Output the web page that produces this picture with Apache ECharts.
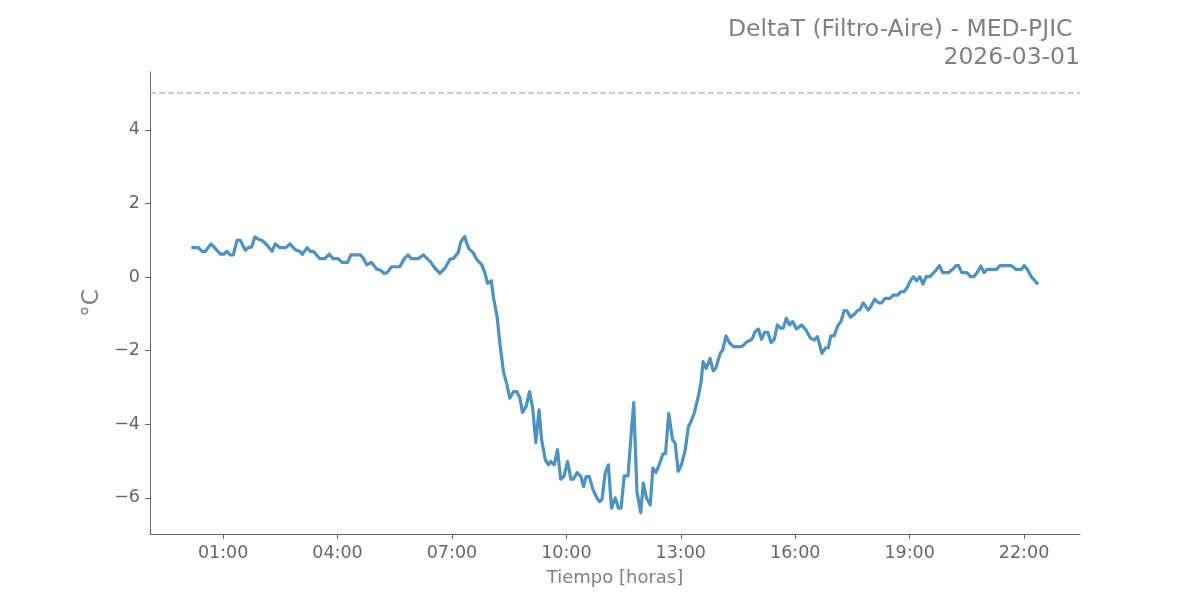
<!DOCTYPE html>
<html>
<head>
<meta charset="utf-8">
<script src="https://cdn.jsdelivr.net/npm/echarts@6/dist/echarts.min.js"></script>
<style>html,body{margin:0;padding:0;background:#fff}#c{width:1200px;height:600px}</style>
</head>
<body>
<div id="c"></div>
<script>
// minutes since 00:00
const timesMin = [10,21,27,32,41,49,56,61,66,71,76,82,87,95,100,105,110,116,121,129,137,142,149,159,165,173,180,185,192,197,202,212,220,227,233,241,247,256,261,276,281,286,293,296,302,307,313,318,325,338,345,351,356,367,375,386,393,401,409,417,422,430,434,440,443,447,453,459,467,472,476,482,485,491,496,501,506,511,517,522,527,531,537,542,547,552,557,561,567,572,575,581,586,591,596,602,607,611,617,623,627,631,636,642,648,652,656,661,666,671,677,682,686,691,697,702,706,711,717,721,726,732,736,741,746,752,756,761,767,771,776,781,787,792,796,801,808,812,815,820,826,831,835,842,846,851,857,863,876,884,892,897,902,907,912,917,922,927,932,937,941,946,951,956,962,970,977,984,990,995,1002,1008,1012,1016,1021,1027,1032,1037,1041,1047,1054,1058,1062,1067,1075,1079,1085,1091,1096,1101,1109,1114,1121,1126,1131,1136,1141,1146,1151,1156,1161,1166,1172,1180,1187,1192,1201,1208,1213,1217,1222,1230,1236,1241,1246,1252,1257,1262,1277,1282,1300,1307,1316,1320,1325,1332,1337,1342];
const deltaT = [0.8,0.8,0.7,0.7,0.9,0.75,0.62,0.62,0.7,0.6,0.6,1.0,1.0,0.73,0.8,0.82,1.09,1.02,1.0,0.87,0.7,0.9,0.8,0.8,0.9,0.75,0.7,0.62,0.8,0.7,0.7,0.5,0.5,0.62,0.5,0.5,0.4,0.4,0.6,0.6,0.5,0.33,0.4,0.37,0.21,0.19,0.1,0.12,0.28,0.28,0.5,0.6,0.5,0.5,0.6,0.42,0.25,0.1,0.24,0.49,0.5,0.67,0.96,1.1,0.93,0.76,0.67,0.48,0.33,0.1,-0.17,-0.1,-0.53,-1.08,-1.89,-2.57,-2.89,-3.29,-3.11,-3.11,-3.29,-3.68,-3.5,-3.11,-3.56,-4.5,-3.61,-4.42,-4.97,-5.1,-5.01,-5.1,-4.69,-5.49,-5.42,-5.01,-5.49,-5.49,-5.31,-5.42,-5.69,-5.42,-5.42,-5.78,-6.0,-6.1,-6.05,-5.33,-5.1,-6.28,-6.0,-6.28,-6.28,-5.4,-5.4,-4.24,-3.41,-5.83,-6.4,-5.6,-6.0,-6.19,-5.19,-5.31,-5.1,-4.8,-4.8,-3.7,-4.42,-4.51,-5.28,-5.1,-4.69,-4.06,-3.93,-3.7,-3.2,-2.84,-2.3,-2.48,-2.21,-2.55,-2.48,-2.07,-1.98,-1.6,-1.8,-1.89,-1.89,-1.76,-1.69,-1.48,-1.41,-1.69,-1.5,-1.5,-1.78,-1.69,-1.3,-1.39,-1.39,-1.12,-1.3,-1.21,-1.41,-1.3,-1.44,-1.66,-1.71,-1.62,-2.07,-1.92,-1.92,-1.6,-1.6,-1.32,-1.21,-0.91,-0.91,-1.09,-0.99,-0.91,-0.88,-0.7,-0.9,-0.8,-0.6,-0.7,-0.7,-0.58,-0.58,-0.49,-0.49,-0.4,-0.4,-0.29,-0.11,0.01,-0.1,0.01,-0.19,0.01,0.01,0.16,0.31,0.12,0.12,0.21,0.31,0.31,0.12,0.12,0.01,0.01,0.12,0.3,0.12,0.21,0.21,0.31,0.31,0.21,0.21,0.31,0.21,-0.01,-0.1,-0.2];
const xTickMin = [60,240,420,600,780,960,1140,1320];
const yTicks = [-6,-4,-2,0,2,4];
const threshold = 5;
const titleLines = ['DeltaT (Filtro-Aire) - MED-PJIC ', '2026-03-01'];

const pad = n => String(n).padStart(2,'0');
const fmtTime = v => pad(Math.floor(v/60)) + ':' + pad(Math.round(v%60));
const fmtNum = v => String(v).replace('-', '\u2212');

const chart = echarts.init(document.getElementById('c'), null, {renderer:'canvas'});
const font = 'DejaVu Sans';
chart.setOption({
  animation:false,
  backgroundColor:'#fff',
  textStyle:{fontFamily:font},
  graphic:[
    {type:'text', right:120, top:18, style:{text:titleLines[0], font:'23.5px "DejaVu Sans"', fill:'#808080', textAlign:'right'}},
    {type:'text', right:120, top:46, style:{text:titleLines[1], font:'23.5px "DejaVu Sans"', fill:'#808080', textAlign:'right'}}
  ],
  grid:{left:150, right:120, top:72, bottom:66, containLabel:false},
  xAxis:{
    type:'value', min:-55, max:1408,
    name:'Tiempo [horas]', nameLocation:'middle', nameGap:35,
    nameTextStyle:{fontFamily:font, fontSize:18, color:'#808080'},
    splitLine:{show:false},
    axisLine:{show:true, onZero:false, lineStyle:{color:'#666', width:1}},
    axisTick:{show:true, customValues:xTickMin, length:5, lineStyle:{color:'#666'}},
    axisLabel:{customValues:xTickMin, formatter:fmtTime, fontFamily:font, fontSize:17.5, color:'#666', margin:10}
  },
  yAxis:{
    type:'value', min:-6.98, max:5.57,
    name:'°C', nameLocation:'middle', nameGap:44, nameRotate:90,
    nameTextStyle:{fontFamily:font, fontSize:23, color:'#808080'},
    splitLine:{show:false},
    axisLine:{show:true, onZero:false, lineStyle:{color:'#666', width:1}},
    axisTick:{show:true, customValues:yTicks, length:5, lineStyle:{color:'#666'}},
    axisLabel:{customValues:yTicks, formatter:fmtNum, fontFamily:font, fontSize:17.5, color:'#666', margin:10}
  },
  series:[{
    type:'line',
    data: timesMin.map((t,i)=>[t, deltaT[i]]),
    showSymbol:false, symbol:'none',
    lineStyle:{color:'#4c92c3', width:3.2, join:'round'},
    markLine:{
      silent:true, symbol:['none','none'], label:{show:false},
      lineStyle:{color:'#bbbbbb', type:[6,3], width:1.5},
      data:[{yAxis:threshold}]
    }
  }]
});
</script>
</body>
</html>
